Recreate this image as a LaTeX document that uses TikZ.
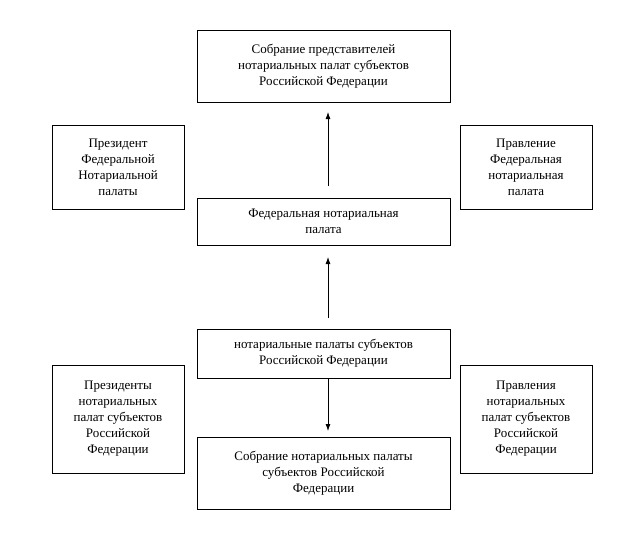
\documentclass[tikz,border=0pt]{standalone}
\usepackage{fontspec}
\setmainfont{Liberation Serif}
\usetikzlibrary{arrows.meta}
\begin{document}
\begin{tikzpicture}[x=1pt,y=-1pt,
  bx/.style={draw,line width=0.9pt,align=center,inner sep=0pt,font=\fontsize{13}{16}\selectfont},
  ar/.style={line width=0.8pt,-{Latex[length=7pt,width=5pt]}}]
\useasboundingbox (0,0) rectangle (639,546);
\node[bx,minimum width=253,minimum height=72] (top) at (323.5,66) {Собрание представителей\\нотариальных палат  субъектов\\Российской Федерации};
\node[bx,minimum width=132,minimum height=84] (pl) at (118,167) {Президент\\Федеральной\\Нотариальной\\палаты};
\node[bx,minimum width=132,minimum height=84] (pr) at (526,167) {Правление\\Федеральная\\нотариальная\\палата};
\node[bx,minimum width=253,minimum height=47] (fnp) at (323.5,221.5) {Федеральная нотариальная\\палата};
\node[bx,minimum width=253,minimum height=49] (np) at (323.5,353.5) {нотариальные палаты  субъектов\\Российской Федерации};
\node[bx,minimum width=132,minimum height=108] (ll) at (118,419) {Президенты\\нотариальных\\палат субъектов\\Российской\\Федерации};
\node[bx,minimum width=132,minimum height=108] (lr) at (526,419) {Правления\\нотариальных\\палат субъектов\\Российской\\Федерации};
\node[bx,minimum width=253,minimum height=72] (bot) at (323.5,473) {Собрание нотариальных палаты\\субъектов Российской\\Федерации};
\coordinate (a1s) at (328,186);
\coordinate (a1e) at (328,112);
\coordinate (a2s) at (328,318);
\coordinate (a2e) at (328,257);
\coordinate (a3s) at (328,378);
\coordinate (a3e) at (328,431);
\draw[ar] (a1s) -- (a1e);
\draw[ar] (a2s) -- (a2e);
\draw[ar] (a3s) -- (a3e);
\end{tikzpicture}
\end{document}
